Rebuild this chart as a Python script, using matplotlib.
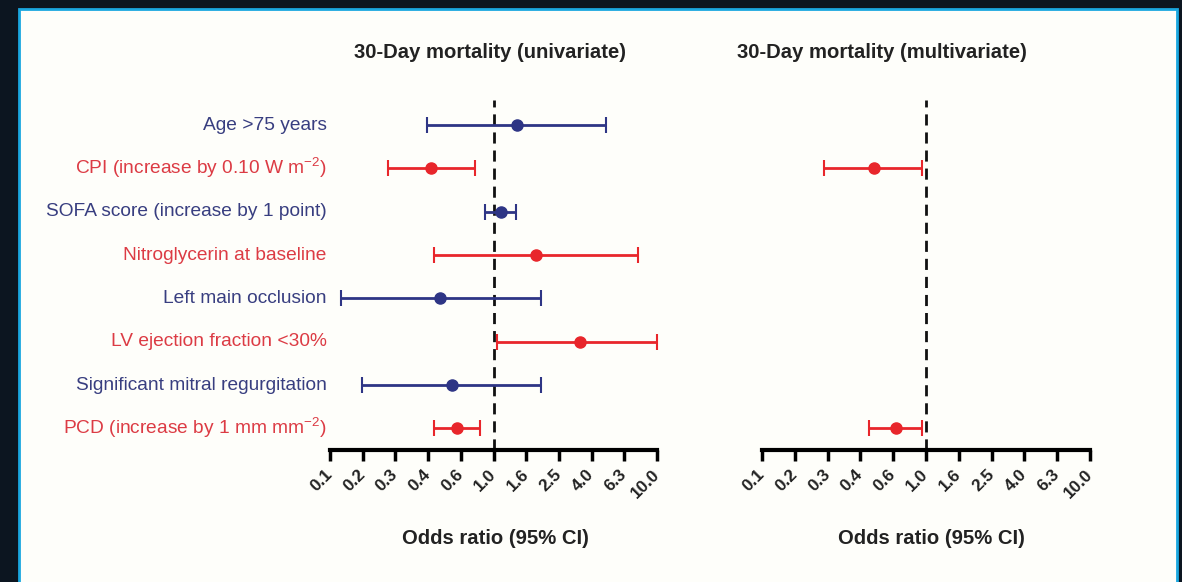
import matplotlib
matplotlib.use('Agg')
import matplotlib.pyplot as plt
from matplotlib.patches import Rectangle
from matplotlib import font_manager

names = {f.name for f in font_manager.fontManager.ttflist}
base = 'Liberation Sans Narrow' if 'Liberation Sans Narrow' in names else 'Liberation Sans'
narrow = base == 'Liberation Sans Narrow'
plt.rcParams['font.family'] = [base, 'DejaVu Sans']
plt.rcParams['mathtext.fontset'] = 'custom'
plt.rcParams['mathtext.rm'] = base
plt.rcParams['mathtext.it'] = base

# data
labels = ['Age >75 years',
          'CPI (increase by 0.10 W m$^{-2}$)',
          'SOFA score (increase by 1 point)',
          'Nitroglycerin at baseline',
          'Left main occlusion',
          'LV ejection fraction <30%',
          'Significant mitral regurgitation',
          'PCD (increase by 1 mm mm$^{-2}$)']
uni_or = [1.39, 0.415, 1.11, 1.82, 0.47, 3.38, 0.56, 0.60]
uni_lo = [0.39, 0.226, 0.89, 0.43, 0.117, 1.05, 0.157, 0.43]
uni_hi = [4.88, 0.77, 1.37, 7.65, 1.95, 10.0, 1.95, 0.83]

# multivariate: only CPI (row 1) and PCD (row 7)
multi_rows = [1, 7]
multi_or = [0.48, 0.66]
multi_lo = [0.24, 0.45]
multi_hi = [0.95, 0.95]

tick_vals = [0.1, 0.1585, 0.2512, 0.3981, 0.631, 1.0, 1.585, 2.512, 3.981, 6.31, 10.0]
tick_labels = ['0.1', '0.2', '0.3', '0.4', '0.6', '1.0', '1.6', '2.5', '4.0', '6.3', '10.0']

navy = '#2e3585'
red = '#e8262b'
navy_txt = '#383e80'
red_txt = '#dc3b44'
row_colors = [navy, red] * 4
txt_colors = [navy_txt, red_txt] * 4

lab_size = 17 if narrow else 13.8
big_size = 17.5 if narrow else 14.6
tick_size = 14 if narrow else 12.3

W, H = 1182, 582
fig = plt.figure(figsize=(W / 100, H / 100), dpi=100)
fig.patch.set_facecolor('#0c1520')
fig.patches.append(Rectangle((19 / W, -0.02), 1158 / W, 1.02 - 9 / H, transform=fig.transFigure,
                             facecolor='#fefefa', edgecolor='#1aa7e0', linewidth=2, zorder=-5))


def make_axes(left_px, width_px):
    ax = fig.add_axes([left_px / W, 1 - 450 / H, width_px / W, 350 / H])
    ax.set_facecolor('none')
    ax.set_xscale('log')
    ax.set_xlim(0.1, 10.0)
    ax.set_ylim(7.5, -0.58)
    for s in ['top', 'right', 'left']:
        ax.spines[s].set_visible(False)
    ax.spines['bottom'].set_linewidth(3)
    ax.set_xticks(tick_vals)
    ax.set_xticks([], minor=True)
    ax.set_xticklabels(tick_labels, rotation=45, ha='right', va='center',
                       rotation_mode='anchor', fontsize=tick_size, fontweight='bold',
                       color='#222222')
    ax.tick_params(axis='x', length=8, width=2.5, pad=8)
    ax.axvline(1.0, color='#111111', lw=2, ls=(0, (4, 2.5)), zorder=1)
    ax.set_yticks([])
    return ax


ax1 = make_axes(330, 327)
for i in range(len(labels)):
    ax1.errorbar(uni_or[i], i, xerr=[[uni_or[i] - uni_lo[i]], [uni_hi[i] - uni_or[i]]],
                 fmt='o', color=row_colors[i], ms=8, elinewidth=2, capsize=6, capthick=1.5,
                 zorder=3, clip_on=False)
    ax1.text(-0.01, i, labels[i], transform=ax1.get_yaxis_transform(), ha='right', va='center',
             fontsize=lab_size, color=txt_colors[i])

ax2 = make_axes(762, 328)
for k, i in enumerate(multi_rows):
    ax2.errorbar(multi_or[k], i, xerr=[[multi_or[k] - multi_lo[k]], [multi_hi[k] - multi_or[k]]],
                 fmt='o', color=red, ms=8, elinewidth=2, capsize=6, capthick=1.5, zorder=3)

for xc, yc, s in [(490, 52, '30-Day mortality (univariate)'),
                  (882, 52, '30-Day mortality (multivariate)'),
                  (495, 538, 'Odds ratio (95% CI)'),
                  (931, 538, 'Odds ratio (95% CI)')]:
    fig.text(xc / W, 1 - yc / H, s, ha='center', va='center',
             fontsize=big_size, fontweight='bold', color='#222222')

fig.savefig('out.png', dpi=100, facecolor=fig.get_facecolor())
